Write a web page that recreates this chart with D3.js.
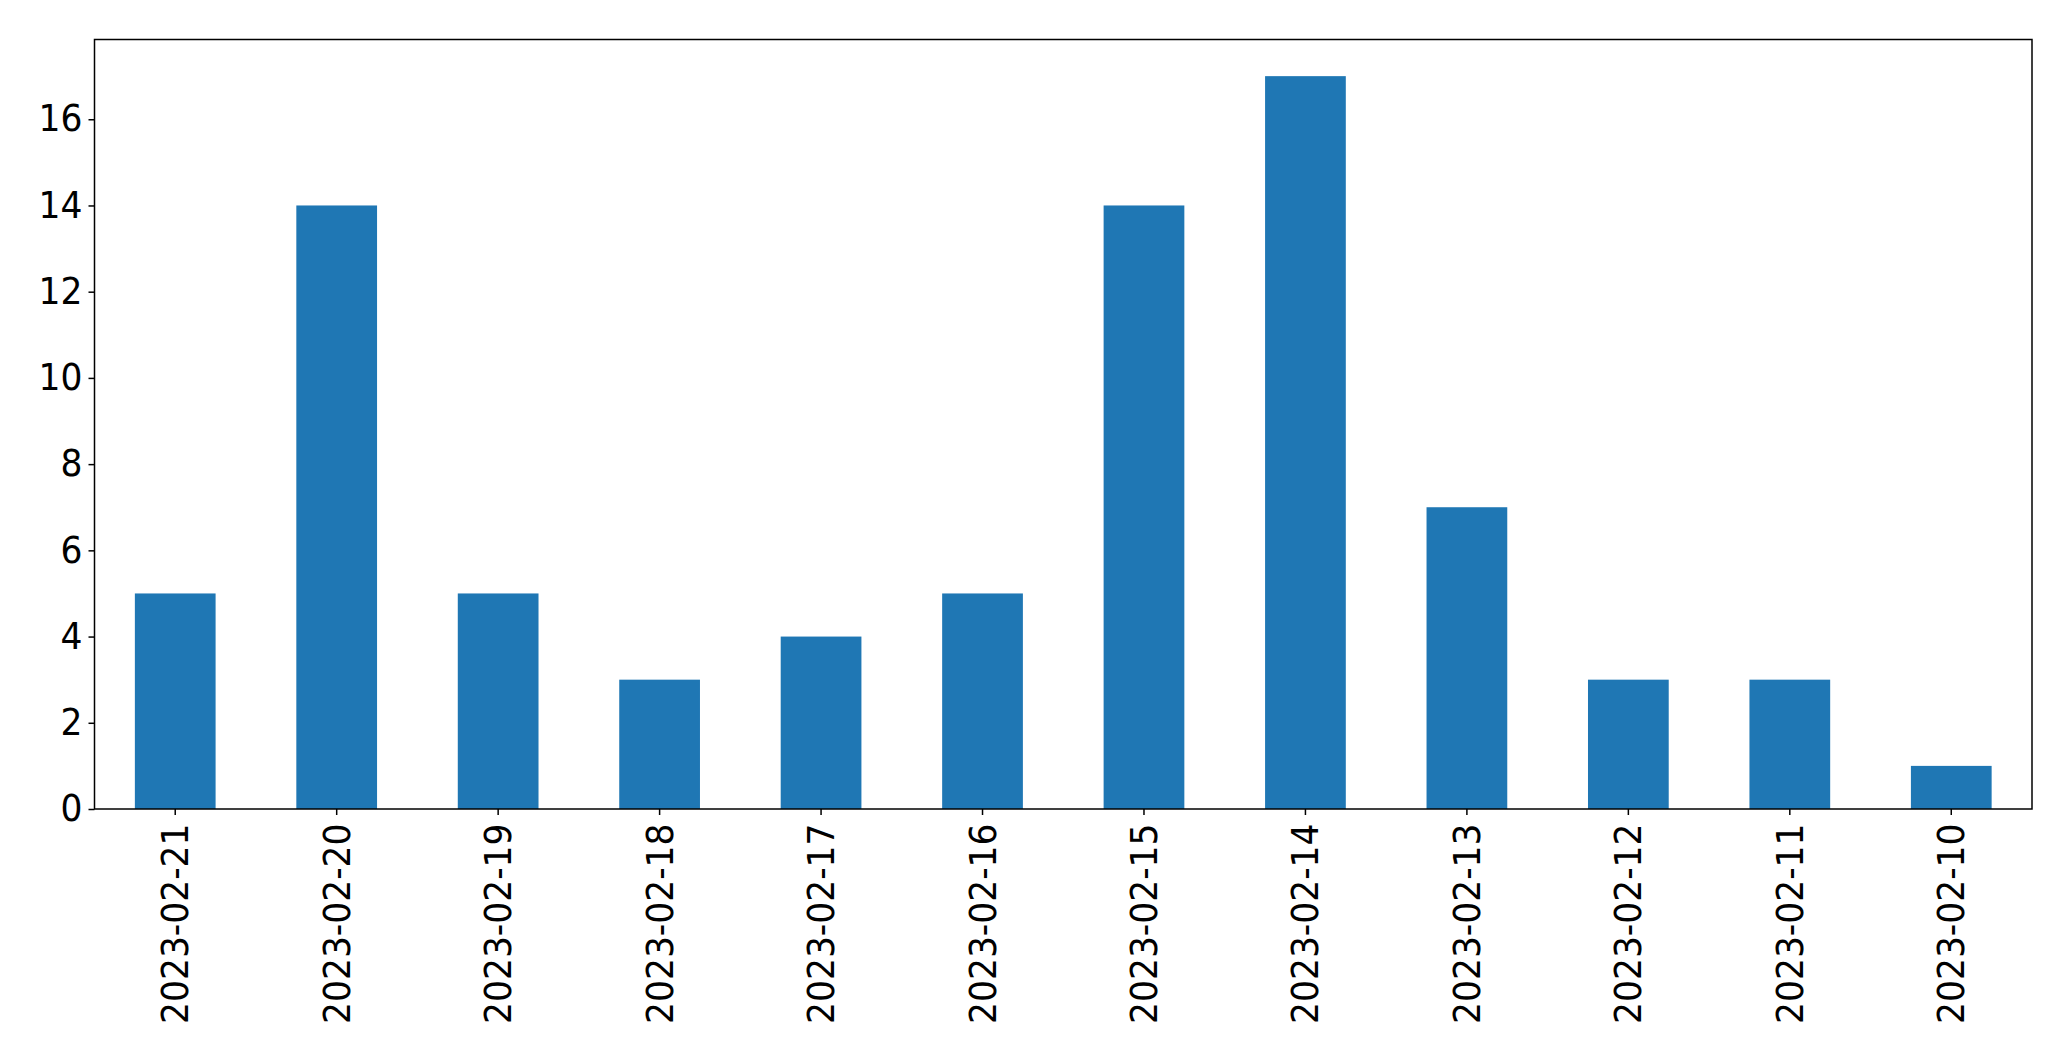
<!DOCTYPE html>
<html>
<head>
<meta charset="utf-8">
<script src="https://cdn.jsdelivr.net/npm/d3@7"></script>
<style>
html,body{margin:0;padding:0;background:#fff;}
svg{display:block;}
</style>
</head>
<body>
<svg id="chart" width="2071" height="1061"></svg>
<script>
const categories = ["2023-02-21","2023-02-20","2023-02-19","2023-02-18","2023-02-17","2023-02-16","2023-02-15","2023-02-14","2023-02-13","2023-02-12","2023-02-11","2023-02-10"];
const values = [5,14,5,3,4,5,14,17,7,3,3,1];
const yTicks = [0,2,4,6,8,10,12,14,16];

const W = 2071, H = 1061;
const m = {left: 94.5, right: 2071-2032, top: 39.5, bottom: 1061-809};
const svg = d3.select("#chart");
const iw = W - m.left - m.right, ih = H - m.top - m.bottom;
const g = svg.append("g").attr("transform", `translate(${m.left},${m.top})`);

const x = d3.scaleBand().domain(categories).range([0, iw]).paddingInner(0.5).paddingOuter(0.25);
const yMax = d3.max(values) * 1.05;
const y = d3.scaleLinear().domain([0, yMax]).range([ih, 0]);

g.selectAll("rect.bar").data(values).join("rect")
  .attr("class","bar")
  .attr("x", (d,i) => x(categories[i]))
  .attr("y", d => y(d))
  .attr("width", x.bandwidth())
  .attr("height", d => y(0) - y(d))
  .attr("fill", "#1f77b4");

const font = "'DejaVu Sans', sans-serif";

const yAxis = g.append("g").call(d3.axisLeft(y).tickValues(yTicks).tickSize(6).tickPadding(6).tickFormat(d3.format("d")));
yAxis.select(".domain").remove();
yAxis.selectAll("line").attr("stroke","#000").attr("stroke-width",1.5);
yAxis.selectAll("text").attr("font-family", font).attr("font-size", 34.5).attr("fill","#000")
  .attr("transform","scale(1,1.06)");

const xAxis = g.append("g").attr("transform", `translate(0,${ih})`)
  .call(d3.axisBottom(x).tickSize(6).tickPadding(10));
xAxis.select(".domain").remove();
xAxis.selectAll("line").attr("stroke","#000").attr("stroke-width",1.5);
xAxis.selectAll("text")
  .attr("font-family", font).attr("font-size", 34.5).attr("fill","#000")
  .attr("text-anchor","end")
  .attr("transform","rotate(-90) scale(1,1.08)")
  .attr("x", -14.5).attr("y", 0).attr("dy","0.35em");

g.append("rect").attr("x",0).attr("y",0).attr("width",iw).attr("height",ih)
  .attr("fill","none").attr("stroke","#000").attr("stroke-width",1.5);
</script>
</body>
</html>
